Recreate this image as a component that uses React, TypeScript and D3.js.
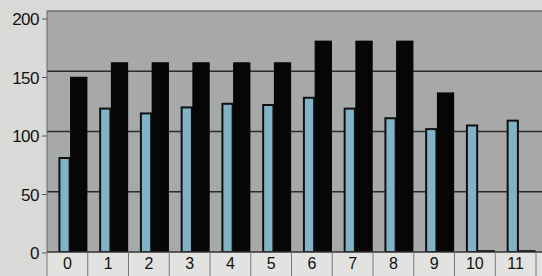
import * as d3 from "d3";

const categories = ["0", "1", "2", "3", "4", "5", "6", "7", "8", "9", "10", "11"];
const seriesA = [78, 119, 115, 120, 123, 122, 128, 119, 111, 102, 105, 109];
const seriesB = [145, 157, 157, 157, 157, 157, 175, 175, 175, 132, 1, 1];
const yTicks = [0, 50, 100, 150, 200];

const width = 542;
const height = 276;
const plot = { left: 47, right: 536, top: 11, bottom: 252 };

export default function App() {
  const x = d3.scaleBand<string>().domain(categories).range([plot.left, plot.right]);
  const bw = x.bandwidth();
  const inner = d3
    .scaleBand<string>()
    .domain(["a", "b"])
    .range([bw * 0.28, bw * 0.93]);
  const y = d3.scaleLinear().domain([0, 200]).range([plot.bottom, plot.top]);
  // labels and ticks sit on the front face, a bit below the back-wall gridlines
  const yFront = d3.scaleLinear().domain([0, 200]).range([plot.bottom + 1, plot.top + 8]);

  return (
    <svg
      width={width}
      height={height}
      style={{ position: "absolute", left: 0, top: 0, fontFamily: "Liberation Sans, Arial, sans-serif" }}
    >
      <rect x={0} y={0} width={width} height={height} fill="#d9dad8" />
      {/* plot background */}
      <rect x={plot.left} y={plot.top} width={width - plot.left} height={plot.bottom - plot.top} fill="#a7a9a8" />
      {yTicks.map((t) => (
        <g key={t}>
          {t > 0 && (
            <line x1={plot.left} x2={width} y1={y(t)} y2={y(t)} stroke={t === 200 ? "#6a6c6b" : "#2a2b2b"} strokeWidth={1.3} />
          )}
          <line x1={plot.left - 5} x2={plot.left} y1={yFront(t)} y2={yFront(t)} stroke="#555" />
          <text x={39} y={yFront(t)} dy="0.36em" textAnchor="end" fontSize={17} fill="#111" letterSpacing={-0.5}>
            {t}
          </text>
        </g>
      ))}
      <line x1={plot.left} x2={plot.left} y1={plot.top} y2={plot.bottom} stroke="#666" />
      {categories.map((c, i) => {
        const x0 = x(c) ?? 0;
        return (
          <g key={c}>
            <rect
              x={x0 + (inner("a") ?? 0) + 1}
              y={y(seriesA[i])}
              width={inner.bandwidth() - 3}
              height={plot.bottom - y(seriesA[i])}
              fill="#80b3c6"
              stroke="#111"
              strokeWidth={2}
            />
            <rect
              x={x0 + (inner("b") ?? 0) - 1}
              y={y(seriesB[i])}
              width={inner.bandwidth() + 3}
              height={plot.bottom - y(seriesB[i])}
              fill="#060606"
              stroke="#000"
              strokeWidth={1}
            />
          </g>
        );
      })}
      {/* category axis cells */}
      <rect x={plot.left} y={plot.bottom} width={width - plot.left} height={height - plot.bottom} fill="#e2e3e1" />
      <line x1={plot.left} x2={width} y1={plot.bottom} y2={plot.bottom} stroke="#333" strokeWidth={1.5} />
      {categories.map((c) => (
        <g key={c}>
          <line x1={x(c)} x2={x(c)} y1={plot.bottom} y2={height} stroke="#777" />
          <text x={(x(c) ?? 0) + bw / 2} y={269} textAnchor="middle" fontSize={16} fill="#111">
            {c}
          </text>
        </g>
      ))}
      <line x1={plot.right} x2={plot.right} y1={plot.bottom} y2={height} stroke="#777" />
    </svg>
  );
}
